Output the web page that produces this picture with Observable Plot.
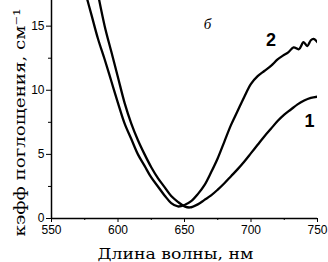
<!DOCTYPE html>
<html>
<head>
<meta charset="utf-8">
<script src="https://cdn.jsdelivr.net/npm/d3@7"></script>
<script src="https://cdn.jsdelivr.net/npm/@observablehq/plot@0.6"></script>
<style>
  html, body { margin: 0; padding: 0; background: #fff; }
  #chart { width: 328px; height: 262px; }
</style>
</head>
<body>
<div id="chart"></div>
<script>
// Curve 1
const wl1 = [584, 590, 595, 600, 605, 610, 615, 620, 625, 630, 635, 640, 645, 650, 654, 660, 665, 670, 675, 680, 685, 690, 695, 700, 705, 710, 715, 720, 725, 730, 735, 740, 745, 750];
const abs1 = [18.0, 15.0, 13.0, 11.0, 9.0, 7.4, 6.1, 5.0, 4.0, 3.15, 2.45, 1.75, 1.3, 0.95, 0.86, 1.1, 1.45, 1.8, 2.25, 2.75, 3.3, 3.85, 4.45, 5.1, 5.75, 6.4, 7.0, 7.6, 8.1, 8.5, 8.9, 9.2, 9.4, 9.5];
// Curve 2
const wl2 = [575, 580, 585, 590, 595, 600, 605, 610, 615, 620, 625, 630, 635, 640, 645, 650, 655, 660, 665, 670, 675, 680, 685, 690, 695, 700, 705, 710, 715, 720, 724, 728, 732, 736, 739.5, 742.3, 745, 747, 750];
const abs2 = [17.8, 15.9, 14.0, 12.4, 10.7, 9.0, 7.4, 6.2, 5.0, 4.1, 3.2, 2.5, 1.8, 1.2, 0.94, 1.05, 1.35, 1.9, 2.6, 3.6, 4.7, 6.0, 7.3, 8.4, 9.5, 10.5, 11.1, 11.5, 11.9, 12.4, 12.7, 12.95, 13.35, 13.2, 13.75, 13.45, 13.9, 14.0, 13.75];

const xTicks = [550, 600, 650, 700, 750];
const xMinor = [575, 625, 675, 725];
const yTicks = [0, 5, 10, 15];
const yMinor = [2.5, 7.5, 12.5];

const xLabel = "Длина волны, нм";
const yLabel = "кэфф поглощения, см⁻¹";
const curveNames = ["1", "2"];
const panelName = "б";

const d1 = wl1.map((w, i) => ({wl: w, a: abs1[i]}));
const d2 = wl2.map((w, i) => ({wl: w, a: abs2[i]}));

const plot = Plot.plot({
  width: 328,
  height: 262,
  marginTop: 0,
  marginBottom: 44,
  marginLeft: 51,
  marginRight: 11,
  x: {domain: [550, 750]},
  y: {domain: [0, 17]},
  style: {fontFamily: "Liberation Sans, Arial, sans-serif", fontSize: "12px", background: "#fff", color: "#000"},
  marks: [
    Plot.axisX({ticks: xTicks, tickSize: 4, tickPadding: 3, label: null, fontSize: 12, tickFormat: d => String(d)}),
    Plot.axisX({ticks: xMinor, tickSize: 2, text: null, label: null}),
    Plot.axisY({ticks: yTicks, tickSize: 5, tickPadding: 2, label: null, fontSize: 12, tickFormat: d => String(d)}),
    Plot.axisY({ticks: yMinor, tickSize: 3, text: null, label: null}),
    Plot.ruleX([550], {stroke: "#000", strokeWidth: 1.5}),
    Plot.ruleY([0], {stroke: "#000", strokeWidth: 1.5}),
    Plot.line(d1, {x: "wl", y: "a", stroke: "#000", strokeWidth: 2.3, curve: "catmull-rom", clip: true}),
    Plot.line(d2, {x: "wl", y: "a", stroke: "#000", strokeWidth: 2.3, curve: "catmull-rom", clip: true}),
    // curve labels anchored to curve data points
    Plot.text([d1[d1.length - 1]], {x: "wl", y: "a", text: () => curveNames[0], dx: -8, dy: 25, fontSize: 18, fontWeight: "bold", fontFamily: "Liberation Sans, Arial, sans-serif"}),
    Plot.text([d2[28]], {x: "wl", y: "a", text: () => curveNames[1], dx: 0, dy: -26, fontSize: 18, fontWeight: "bold", fontFamily: "Liberation Sans, Arial, sans-serif"}),
    Plot.text([panelName], {frameAnchor: "top", dx: 23, dy: 18, fontSize: 15, fontStyle: "italic", fontFamily: "Liberation Serif, serif"}),
    Plot.text([xLabel], {frameAnchor: "bottom", textAnchor: "middle", lineAnchor: "bottom", dx: -9, dy: 40, fontSize: 15, fontFamily: "DejaVu Serif, serif"}),
    Plot.text([yLabel], {frameAnchor: "left", textAnchor: "middle", lineAnchor: "middle", dx: -31, dy: 13, rotate: -90, fontSize: 15, fontFamily: "DejaVu Serif, serif"})
  ]
});
// stretch axis titles to the reference's text extents
d3.select(plot).selectAll("text").each(function () {
  const t = this.textContent;
  if (t === yLabel) d3.select(this).attr("textLength", 228).attr("lengthAdjust", "spacingAndGlyphs");
  if (t === xLabel) d3.select(this).attr("textLength", 156).attr("lengthAdjust", "spacingAndGlyphs");
});
document.getElementById("chart").append(plot);
</script>
</body>
</html>
